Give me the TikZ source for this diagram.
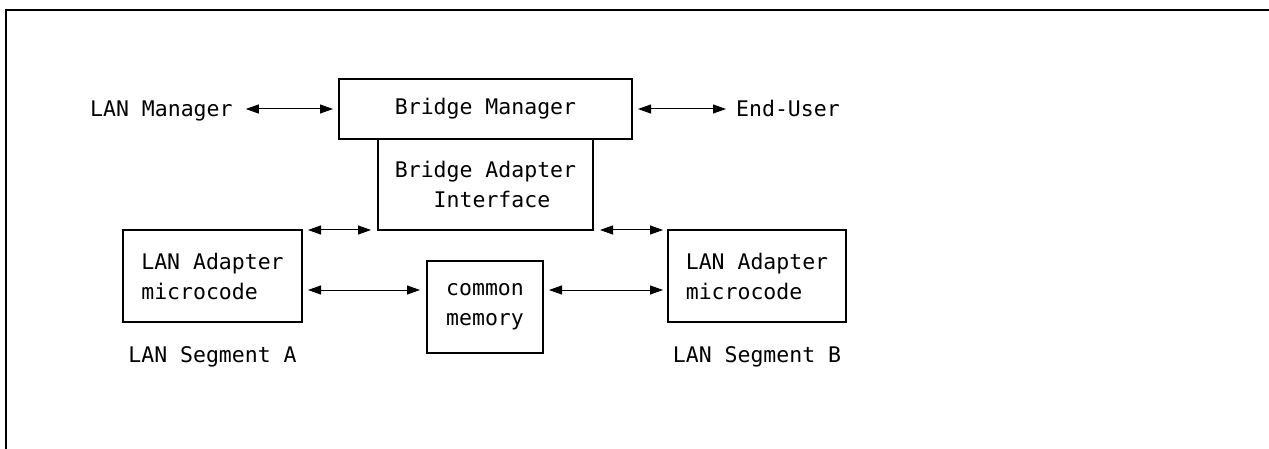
\documentclass[tikz,border=0pt]{standalone}
\usepackage{fontspec}
\setmonofont{DejaVu Sans Mono}
\usetikzlibrary{arrows.meta}
\tikzset{
  box/.style={draw, line width=1.2pt, inner sep=0pt, outer sep=0pt},
  lbl/.style={inner sep=0pt, anchor=base},
  link/.style={{Triangle[length=13pt,width=9pt]}-{Triangle[length=13pt,width=9pt]}, line width=1pt},
}
\begin{document}
\begin{tikzpicture}[x=1pt, y=-1pt, font=\ttfamily\fontsize{21.5}{30}\selectfont]
            \useasboundingbox (0,0) rectangle (1269,449);
            % Frame (top and left edge only)
            \draw[line width=1.5pt] (1269,10) -- (6,10) -- (6,449);

            % Bridge manager and the adapter interface below it
            \node[box, minimum width=293pt, minimum height=60pt] (bmgr) at (485.5,109) {Bridge Manager};
            \node[box, minimum width=215pt, minimum height=91pt, align=left] (bai) at (485.5,184.5) {Bridge Adapter\\\phantom{Bri}Interface};

            % Outside partners
            \node[lbl, anchor=base west] (lanmgr) at (90,117) {LAN Manager};
            \node[lbl, anchor=base west] (enduser) at (736,117) {End-User};
            \draw[link] ([shift={(13,-8)}]lanmgr.base east) -- ([xshift=-6]bmgr.west);
            \draw[link] ([xshift=6]bmgr.east) -- ([shift={(-10,-8)}]enduser.base west);

            % Adapters and shared memory
            \node[box, minimum width=179pt, minimum height=92pt, align=left] (lanA) at (212.5,276) {LAN Adapter\\microcode};
            \node[box, minimum width=116pt, minimum height=92pt, align=left] (mem) at (485,307) {common\\memory};
            \node[box, minimum width=178pt, minimum height=92pt, align=left] (lanB) at (757,276) {LAN Adapter\\microcode};
            \node[lbl] (segA) at (212.5,362) {LAN Segment A};
            \node[lbl] (segB) at (757,362) {LAN Segment B};

            \draw[link] ([xshift=6]lanA.north east) -- ([xshift=-7]bai.south west);
            \draw[link] ([xshift=7]bai.south east) -- ([xshift=-5]lanB.north west);
            \draw[link] ([shift={(6,14)}]lanA.east) -- ([shift={(-7,-17)}]mem.west);
            \draw[link] ([shift={(6,-17)}]mem.east) -- ([shift={(-5,14)}]lanB.west);
        \end{tikzpicture}
\end{document}
